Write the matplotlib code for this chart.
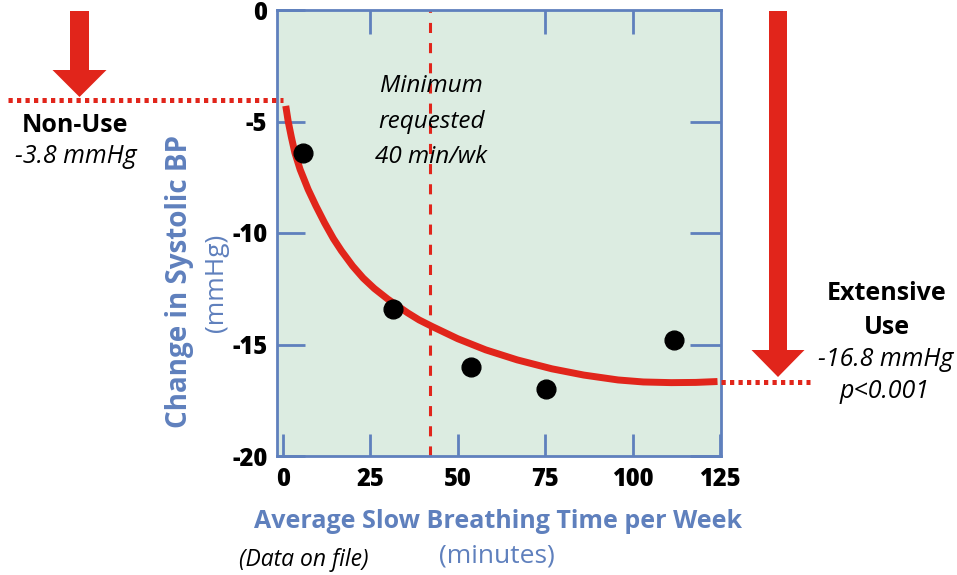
import matplotlib
matplotlib.use('Agg')
import matplotlib.pyplot as plt
from matplotlib.patches import Polygon
from matplotlib.lines import Line2D

plt.rcParams['font.family'] = ['Open Sans', 'DejaVu Sans']

# measured points (minutes per week, change in systolic BP)
minutes = [5.8, 31.6, 53.8, 75.2, 111.9]
bp_change = [-6.4, -13.4, -16.0, -17.0, -14.8]

# fitted trend line
fit_x = [0.9, 1.6, 2.5, 3.5, 5, 7.3, 9.5, 12, 14.5, 16.8, 20, 23, 26.2, 30, 35.7, 39,
         42.8, 50, 58, 67, 76.9, 86, 95.8, 103, 111, 118, 124.2]
fit_y = [-4.3, -5.0, -5.7, -6.4, -7.15, -8.05, -8.78, -9.55, -10.25, -10.8, -11.48, -12.02,
         -12.49, -12.96, -13.58, -13.9, -14.2, -14.74, -15.24, -15.69, -16.09, -16.37,
         -16.59, -16.68, -16.71, -16.7, -16.66]

min_requested = 42

x_ticks = [0, 25, 50, 75, 100, 125]
y_ticks = [-20, -15, -10, -5, 0]

RED = '#E1251B'
BLUE = '#5F80BD'
BG = '#DCECE1'

W, H = 957, 575
fig = plt.figure(figsize=(W / 100, H / 100), dpi=100)


def fx(px):
    return px / W


def fy(py):
    return 1 - py / H


ax = fig.add_axes([fx(277), fy(456), fx(721) - fx(277), fy(10) - fy(456)])
ax.set_facecolor(BG)
ax.set_xlim(-1.6, 125.2)
ax.set_ylim(-20, 0)

for s in ax.spines.values():
    s.set_color(BLUE)
    s.set_linewidth(2)

ax.axvline(min_requested, color=RED, lw=2.2, dashes=(3.3, 3.3), zorder=2)
ax.plot(fit_x, fit_y, color=RED, lw=5, solid_capstyle='butt', solid_joinstyle='round',
        zorder=3)
ax.plot(minutes, bp_change, 'o', color='black', ms=13.5, zorder=4)

ax.set_xticks(x_ticks)
ax.set_yticks(y_ticks)
ax.set_xticklabels([str(v) for v in x_ticks], fontsize=17, fontweight='heavy')
ax.set_yticklabels([str(v) for v in y_ticks], fontsize=17, fontweight='heavy')
ax.tick_params(axis='x', direction='in', length=16, width=2, color=BLUE, pad=8)
ax.tick_params(axis='y', direction='in', length=20, width=2, color=BLUE, pad=7,
               right=True)
for t in ax.yaxis.get_major_ticks():
    t.tick2line.set_markersize(22)

top = ax.secondary_xaxis('top')
top.set_xticks([25, 75, 100])
top.set_xticklabels([])
top.tick_params(direction='in', length=17, width=2, color=BLUE)
top.spines['top'].set_visible(False)

ax.text(min_requested + 0.5, -5.0, 'Minimum\nrequested\n40 min/wk', ha='center',
        va='center', fontsize=17.5, style='italic', linespacing=1.62, zorder=5)

# axis titles
fig.text(fx(498), fy(522), 'Average Slow Breathing Time per Week', ha='center', va='center',
         fontsize=18, fontweight='bold', color=BLUE)
fig.text(fx(497), fy(556), '(minutes)', ha='center', va='center', fontsize=19, color=BLUE)
fig.text(fx(304), fy(560), '(Data on file)', ha='center', va='center', fontsize=16.5,
         style='italic')
fig.text(fx(180), fy(282), 'Change in Systolic BP', ha='center', va='center', rotation=90,
         fontsize=20, fontweight='bold', color=BLUE)
fig.text(fx(216), fy(283), '(mmHg)', ha='center', va='center', rotation=90,
         fontsize=19, color=BLUE)


def arrow(cx, top_y, head_y, tip_y, shaft_w, head_w):
    pts = [(cx - shaft_w / 2, top_y), (cx + shaft_w / 2, top_y), (cx + shaft_w / 2, head_y),
           (cx + head_w / 2, head_y), (cx, tip_y), (cx - head_w / 2, head_y),
           (cx - shaft_w / 2, head_y)]
    fig.patches.append(Polygon([(fx(a), fy(b)) for a, b in pts], closed=True,
                               transform=fig.transFigure, facecolor=RED, edgecolor='none'))


def dotted(x0, x1, y):
    fig.lines.append(Line2D([fx(x0), fx(x1)], [fy(y), fy(y)], transform=fig.transFigure,
                            color=RED, lw=3.6, dashes=(0.85, 0.85), dash_capstyle='butt'))


# non-use marker
arrow(79.5, 11, 70, 97, 19, 54)
dotted(8, 283, 100)
fig.text(fx(75), fy(125), 'Non-Use', ha='center', va='center', fontsize=18, fontweight='bold')
fig.text(fx(76), fy(157), '-3.8 mmHg', ha='center', va='center', fontsize=18, style='italic')

# extensive use marker
arrow(778, 11, 350, 377, 18, 53)
dotted(721, 810, 382)
fig.text(fx(887), fy(294), 'Extensive', ha='center', va='center', fontsize=18, fontweight='bold')
fig.text(fx(887), fy(327), 'Use', ha='center', va='center', fontsize=18, fontweight='bold')
fig.text(fx(886), fy(360), '-16.8 mmHg', ha='center', va='center', fontsize=18, style='italic')
fig.text(fx(885), fy(391), 'p<0.001', ha='center', va='center', fontsize=18, style='italic')

fig.savefig('out.png', dpi=100)
